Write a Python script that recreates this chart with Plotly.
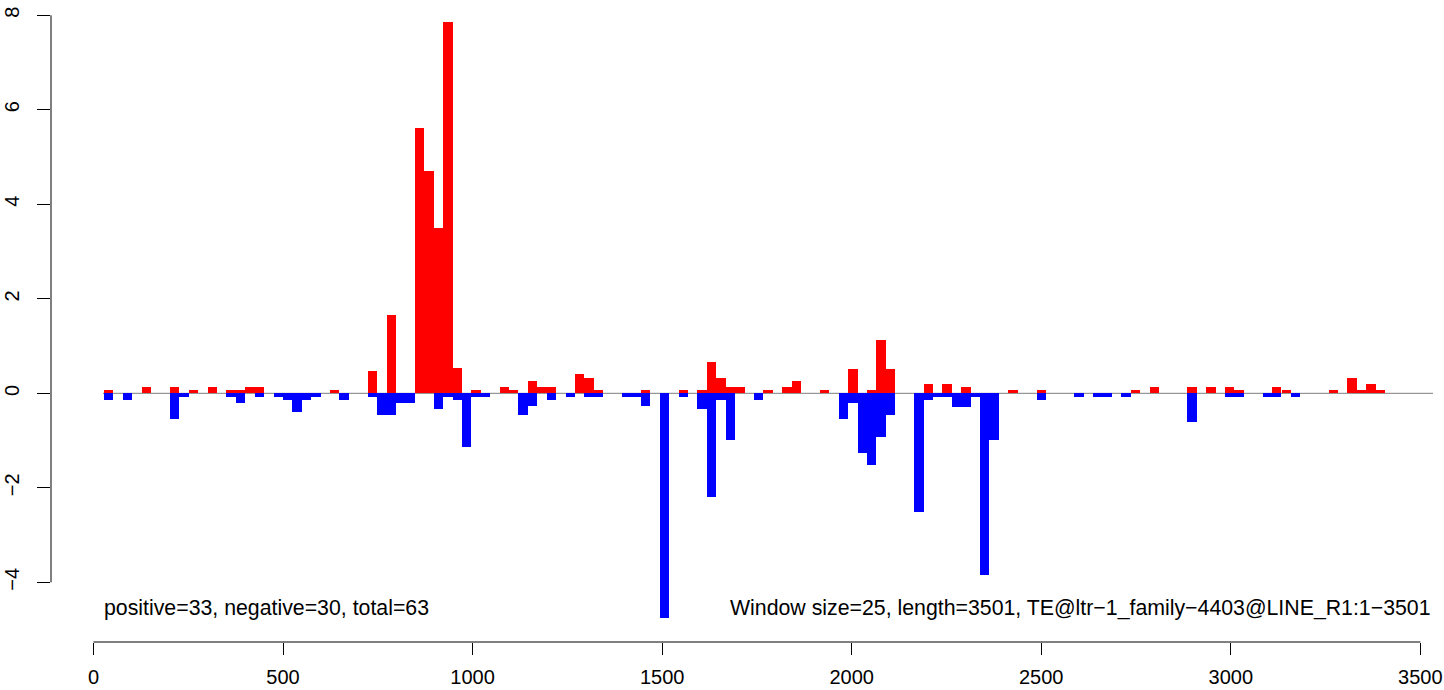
import plotly.graph_objects as go

# window centres (bp) and values
red_x = [40.0, 139.4, 214.0, 263.7, 313.4, 363.1, 387.9, 412.8, 437.6, 636.4, 735.8, 785.5,
         860.0, 884.9, 909.8, 934.6, 959.5, 1009.2, 1083.7, 1108.6, 1158.3, 1183.1, 1208.0,
         1282.5, 1307.4, 1332.2, 1456.5, 1555.9, 1605.6, 1630.4, 1655.3, 1680.1, 1705.0,
         1779.5, 1829.2, 1854.1, 1928.6, 2003.2, 2052.9, 2077.7, 2102.6, 2201.9, 2251.6,
         2301.4, 2425.6, 2500.2, 2748.7, 2798.4, 2897.8, 2947.5, 2997.2, 3022.0, 3121.4,
         3146.3, 3270.5, 3320.2, 3345.1, 3369.9, 3394.8]
red_v = [0.07, 0.14, 0.14, 0.07, 0.14, 0.07, 0.07, 0.14, 0.14, 0.07, 0.47, 1.66, 5.62, 4.70,
         3.50, 7.86, 0.54, 0.07, 0.14, 0.07, 0.26, 0.14, 0.14, 0.41, 0.32, 0.07, 0.07, 0.07,
         0.07, 0.66, 0.32, 0.14, 0.14, 0.07, 0.14, 0.26, 0.07, 0.52, 0.07, 1.12, 0.52, 0.19,
         0.19, 0.13, 0.07, 0.07, 0.07, 0.14, 0.14, 0.14, 0.14, 0.07, 0.14, 0.07, 0.07, 0.32,
         0.07, 0.19, 0.07]

blue_x = [40.0, 89.7, 214.0, 238.8, 363.1, 387.9, 437.6, 487.3, 512.2, 537.0, 561.9, 586.7,
          661.3, 735.8, 760.7, 785.5, 810.4, 835.2, 909.8, 934.6, 959.5, 984.3, 1009.2, 1034.0,
          1133.4, 1158.3, 1208.0, 1257.7, 1307.4, 1332.2, 1406.8, 1431.6, 1456.5, 1506.2,
          1555.9, 1605.6, 1630.4, 1655.3, 1680.1, 1754.7, 1978.3, 2003.2, 2028.0, 2052.9,
          2077.7, 2102.6, 2177.1, 2201.9, 2226.8, 2251.6, 2276.5, 2301.4, 2326.2, 2351.1,
          2375.9, 2500.2, 2599.6, 2649.3, 2674.1, 2723.8, 2897.8, 2997.2, 3022.0, 3096.6,
          3121.4, 3171.1]
blue_v = [0.14, 0.14, 0.54, 0.07, 0.07, 0.20, 0.07, 0.07, 0.14, 0.40, 0.14, 0.07, 0.14,
          0.07, 0.45, 0.45, 0.20, 0.20, 0.33, 0.07, 0.14, 1.13, 0.07, 0.07, 0.45, 0.26, 0.14,
          0.07, 0.07, 0.07, 0.07, 0.07, 0.26, 4.76, 0.07, 0.33, 2.19, 0.14, 0.99, 0.14, 0.54,
          0.20, 1.26, 1.51, 0.92, 0.45, 2.51, 0.15, 0.07, 0.07, 0.28, 0.28, 0.07, 3.84, 0.99,
          0.15, 0.07, 0.07, 0.07, 0.07, 0.60, 0.07, 0.07, 0.07, 0.07, 0.07]

bin_width = 24.85
x_ticks = [0, 500, 1000, 1500, 2000, 2500, 3000, 3500]
y_ticks = [-4, -2, 0, 2, 4, 6, 8]
y_ticktext = ["\u22124", "\u22122", "0", "2", "4", "6", "8"]
left_note = "positive=33, negative=30, total=63"
right_note = "Window size=25, length=3501, TE@ltr\u22121_family\u22124403@LINE_R1:1\u22123501"

FONT = "Liberation Sans, Arial, Helvetica, sans-serif"
X_RANGE = [-112.1, 3533.5]

fig = go.Figure()
fig.add_trace(go.Bar(x=red_x, y=red_v, width=bin_width,
                     marker=dict(color="#FF0000", line=dict(width=0))))
fig.add_trace(go.Bar(x=blue_x, y=[-v for v in blue_v], width=bin_width,
                     marker=dict(color="#0000FF", line=dict(width=0))))

fig.update_layout(
    width=1444, height=690,
    margin=dict(l=51, r=11, t=0, b=48),
    barmode="overlay",
    showlegend=False,
    plot_bgcolor="white", paper_bgcolor="white",
    font=dict(family=FONT, color="black", size=20),
    bargap=0,
)
fig.update_xaxes(range=X_RANGE, showgrid=False, zeroline=False, showline=False,
                 tickvals=x_ticks, ticks="outside", ticklen=12, tickwidth=1,
                 tickcolor="black", tickfont=dict(size=20, family=FONT),
                 ticklabelstandoff=5)
fig.update_yaxes(range=[-5.263, 8.324], showgrid=False, zeroline=False, showline=False,
                 tickvals=y_ticks, ticktext=y_ticktext, tickangle=-90,
                 ticks="outside", ticklen=13, tickwidth=1, tickcolor="black",
                 tickfont=dict(size=20, family=FONT), ticklabelstandoff=10)

# axis lines spanning first to last tick (R style)
fig.add_shape(type="line", xref="paper", yref="y", x0=0, x1=0,
              y0=y_ticks[0], y1=y_ticks[-1], line=dict(color="black", width=1))
fig.add_shape(type="line", xref="x", yref="paper", x0=x_ticks[0], x1=x_ticks[-1],
              y0=0, y1=0, line=dict(color="black", width=1))
# zero reference line
fig.add_shape(type="line", xref="x", yref="y", x0=25, x1=X_RANGE[1], y0=0, y1=0,
              line=dict(color="#7f7f7f", width=1), layer="below")

fig.add_annotation(text=left_note, xref="paper", yref="paper", x=0.037, y=0.053,
                   xanchor="left", yanchor="middle", showarrow=False,
                   font=dict(size=21.3, family=FONT))
fig.add_annotation(text=right_note, xref="paper", yref="paper", x=1.0003, y=0.053,
                   xanchor="right", yanchor="middle", showarrow=False,
                   font=dict(size=21.3, family=FONT))

fig.write_html("out.html", config={"displayModeBar": False},
               post_script="document.body.style.margin='0';")
